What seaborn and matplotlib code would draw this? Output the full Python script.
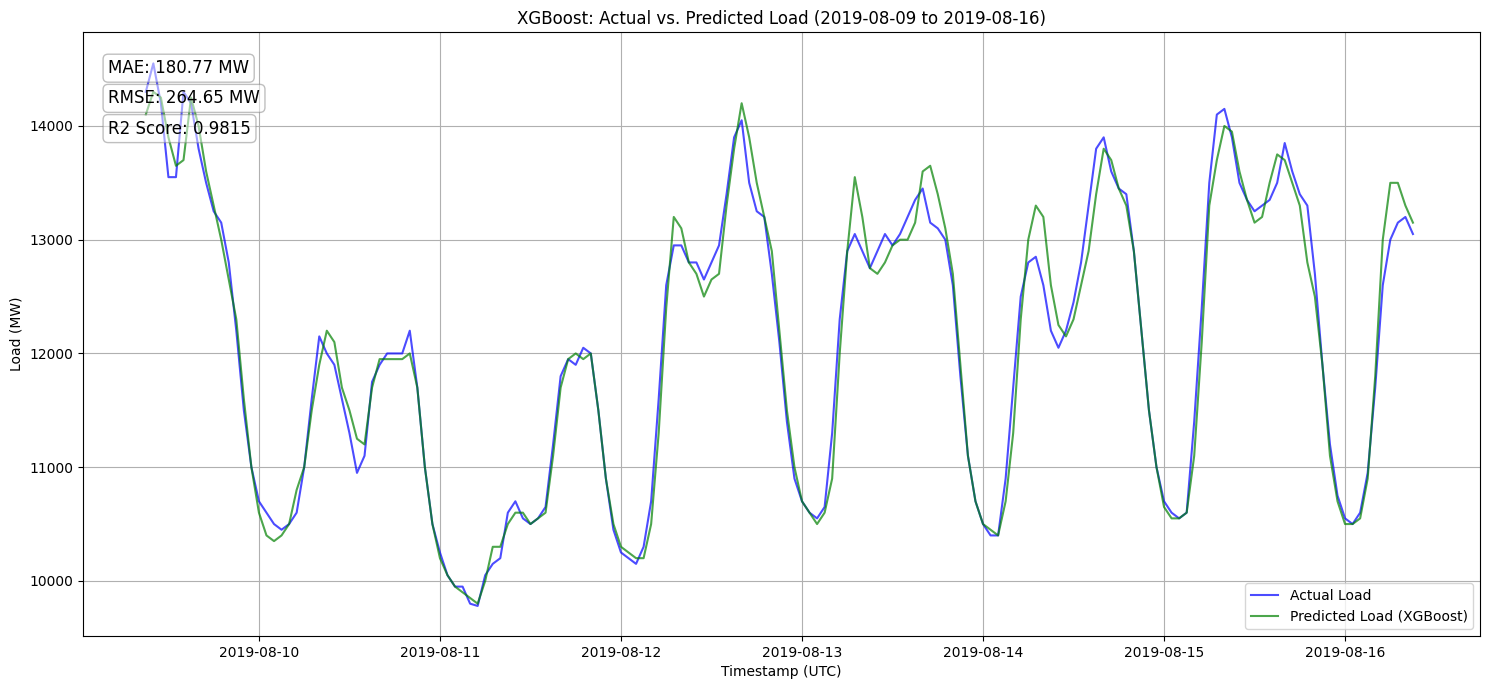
import numpy as np
import pandas as pd
import matplotlib
matplotlib.use("Agg")
import matplotlib.pyplot as plt
import seaborn as sns

start = "2019-08-09 09:00"
actual = [14300,14550,14200,13550,13550,14300,14200,13800,13500,13250,13150,12800,12200,11500,11000,
 10700,10600,10500,10450,10500,10600,11000,11600,12150,12000,11900,11600,11300,10950,11100,11750,11900,12000,12000,12000,12200,11700,11000,10500,
 10250,10050,9950,9950,9800,9780,10050,10150,10200,10600,10700,10550,10500,10550,10650,11200,11800,11950,11900,12050,12000,11500,10900,10450,
 10250,10200,10150,10300,10700,11600,12600,12950,12950,12800,12800,12650,12800,12950,13400,13900,14050,13500,13250,13200,12700,12100,11400,10900,
 10700,10600,10550,10650,11300,12300,12900,13050,12900,12750,12900,13050,12950,13050,13200,13350,13450,13150,13100,13000,12600,11800,11100,10700,
 10500,10400,10400,10900,11700,12500,12800,12850,12600,12200,12050,12200,12450,12800,13300,13800,13900,13600,13450,13400,12900,12200,11500,11000,
 10700,10600,10550,10600,11400,12400,13500,14100,14150,13900,13500,13350,13250,13300,13350,13500,13850,13600,13400,13300,12700,11900,11200,10750,
 10550,10500,10600,10950,11700,12600,13000,13150,13200,13050]
predicted = [14100,14300,14250,13900,13650,13700,14250,14000,13600,13300,13000,12650,12300,11600,11000,
 10600,10400,10350,10400,10500,10800,11000,11500,11900,12200,12100,11700,11500,11250,11200,11700,11950,11950,11950,11950,12000,11700,11000,10500,
 10200,10050,9950,9900,9850,9800,10000,10300,10300,10500,10600,10600,10500,10550,10600,11100,11700,11950,12000,11950,12000,11500,10900,10500,
 10300,10250,10200,10200,10500,11300,12400,13200,13100,12800,12700,12500,12650,12700,13300,13800,14200,13900,13500,13200,12900,12200,11500,11000,
 10700,10600,10500,10600,10900,12000,12900,13550,13200,12750,12700,12800,12950,13000,13000,13150,13600,13650,13400,13100,12700,11900,11100,10700,
 10500,10450,10400,10700,11300,12300,13000,13300,13200,12600,12250,12150,12300,12600,12900,13400,13800,13700,13450,13300,12900,12200,11500,11000,
 10650,10550,10550,10600,11100,12100,13300,13700,14000,13950,13600,13350,13150,13200,13500,13750,13700,13500,13300,12800,12500,11900,11100,10700,
 10500,10500,10550,10900,11800,13000,13500,13500,13300,13150]

idx = pd.date_range(start, periods=len(actual), freq="h")
df = pd.DataFrame({"t": idx, "Actual Load": actual, "Predicted Load (XGBoost)": predicted})

fig, ax = plt.subplots(figsize=(14.89, 6.9), dpi=100)
fig.subplots_adjust(left=0.0557, right=0.994, top=0.9536, bottom=0.0783)
sns.lineplot(data=df, x="t", y="Actual Load", ax=ax, color="blue", alpha=0.7, label="Actual Load")
sns.lineplot(data=df, x="t", y="Predicted Load (XGBoost)", ax=ax, color="green", alpha=0.7, label="Predicted Load (XGBoost)")
ax.set_title("XGBoost: Actual vs. Predicted Load (2019-08-09 to 2019-08-16)")
ax.set_xlabel("Timestamp (UTC)")
ax.set_ylabel("Load (MW)")
ax.set_xlim(pd.Timestamp("2019-08-09 00:40"), pd.Timestamp("2019-08-16 17:54"))
ax.set_ylim(9516, 14826)
ax.grid(True)
ax.legend(loc="lower right")
bbox = dict(boxstyle="round", facecolor="white", alpha=0.5, edgecolor="gray")
ax.text(0.018, 0.955, "MAE: 180.77 MW", transform=ax.transAxes, fontsize=12, va="top", bbox=bbox)
ax.text(0.018, 0.905, "RMSE: 264.65 MW", transform=ax.transAxes, fontsize=12, va="top", bbox=bbox)
ax.text(0.018, 0.855, "R2 Score: 0.9815", transform=ax.transAxes, fontsize=12, va="top", bbox=bbox)
fig.savefig("out.png")
